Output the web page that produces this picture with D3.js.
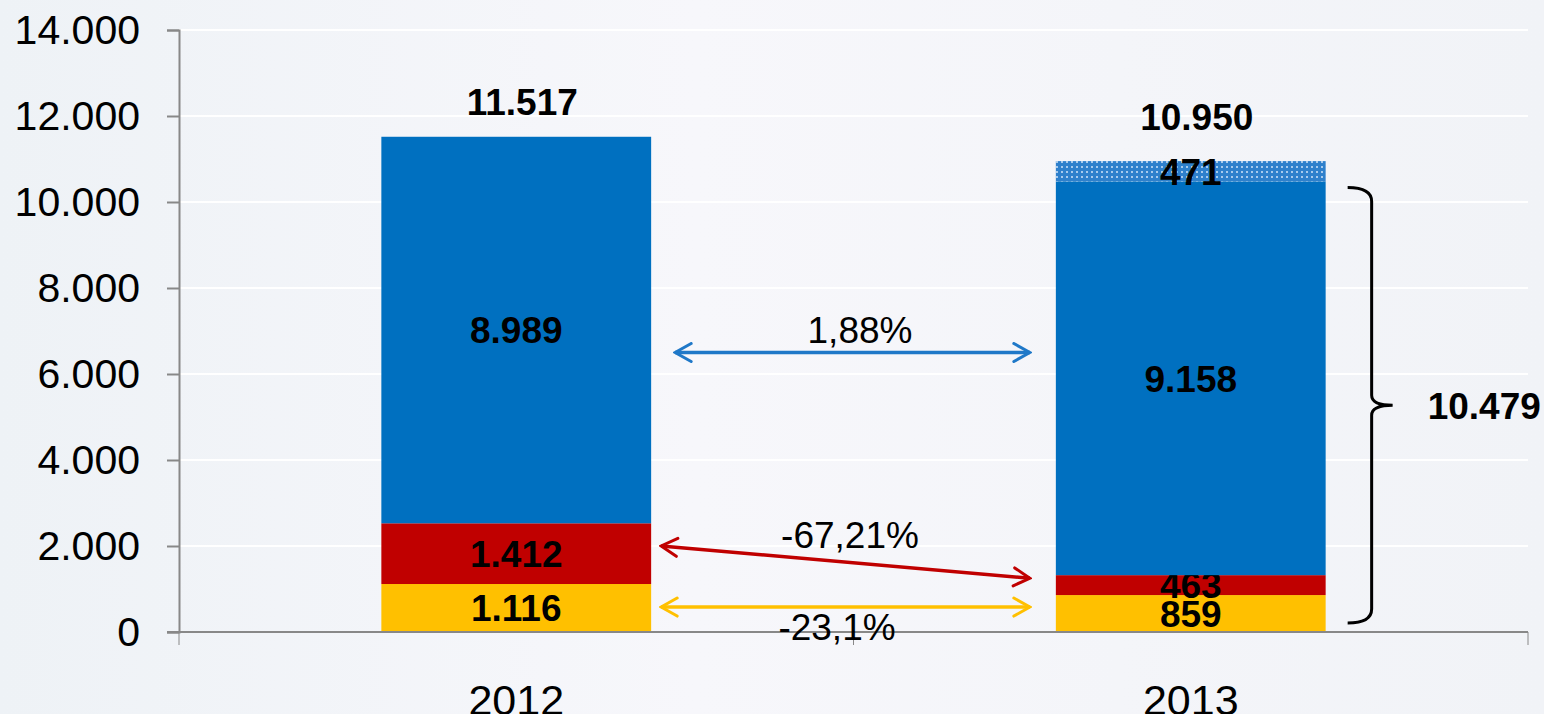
<!DOCTYPE html>
<html>
<head>
<meta charset="utf-8">
<script src="https://cdn.jsdelivr.net/npm/d3@7"></script>
<style>
  html, body { margin: 0; padding: 0; background: #f3f5f9; }
  svg { display: block; font-family: "Liberation Sans", Arial, sans-serif; }
</style>
</head>
<body>
<script>
// data
var years = ["2012", "2013"];
var yellowVals = [1116, 859];
var redVals = [1412, 463];
var blueVals = [8989, 9158];
var hatchVals = [0, 471];
var totals = [11517, 10950];
var yTicks = [0, 2000, 4000, 6000, 8000, 10000, 12000, 14000];

// comparison arrows: label, colour key, value at 2012 end, value at 2013 end
var arrowLabels = ["1,88%", "-67,21%", "-23,1%"];
var arrowKeys = ["blue", "red", "yellow"];
var arrowFrom = [6500, 2000, 580];
var arrowTo = [6500, 1250, 580];

var braceTotal = 10479;

var colors = { yellow: "#ffc000", red: "#c00000", blue: "#0070c0", hatch: "url(#hatch)" };
var arrowColors = { blue: "#1f78c8", red: "#c00000", yellow: "#ffc000" };

var svgWidth = 1544;
var svgHeight = 714;

var locale = d3.formatLocale({ decimal: ",", thousands: ".", grouping: [3], currency: ["", ""] });
var fmt = locale.format(",d");

var svg = d3.select("body").append("svg")
  .attr("width", svgWidth)
  .attr("height", svgHeight);

var defs = svg.append("defs");

var bg = defs.append("linearGradient").attr("id", "bg")
  .attr("x1", 0).attr("y1", 0).attr("x2", 1).attr("y2", 0);
bg.append("stop").attr("offset", "0%").attr("stop-color", "#eef2f6");
bg.append("stop").attr("offset", "45%").attr("stop-color", "#f7f7fb");
bg.append("stop").attr("offset", "100%").attr("stop-color", "#f1f3f7");

var pat = defs.append("pattern").attr("id", "hatch")
  .attr("patternUnits", "userSpaceOnUse").attr("width", 5).attr("height", 5);
pat.append("rect").attr("width", 5).attr("height", 5).attr("fill", "#2e80cc");
pat.append("rect").attr("x", 1).attr("y", 1).attr("width", 2).attr("height", 2).attr("fill", "#a8cbed");

arrowKeys.forEach(function(k) {
  defs.append("marker")
    .attr("id", "head-" + k)
    .attr("viewBox", "-18 -11 20 22")
    .attr("refX", 0).attr("refY", 0)
    .attr("markerUnits", "userSpaceOnUse")
    .attr("markerWidth", 20).attr("markerHeight", 22)
    .attr("orient", "auto-start-reverse")
    .append("path")
    .attr("d", "M-16,-9 L0,0 L-16,9")
    .attr("fill", "none")
    .attr("stroke", arrowColors[k])
    .attr("stroke-width", 3)
    .attr("stroke-linecap", "round");
});

svg.append("rect").attr("width", svgWidth).attr("height", svgHeight).attr("fill", "url(#bg)");

// scales
var x = d3.scaleBand().domain(years).range([179, 1528]).padding(0);
var y = d3.scaleLinear().domain([0, 14000]).range([632, 30]);
var barW = x.bandwidth() * 0.4;
var cx = function(yr) { return x(yr) + x.bandwidth() / 2; };

// gridlines
svg.append("g").selectAll("line")
  .data(yTicks.filter(function(d) { return d > 0; }))
  .enter().append("line")
  .attr("x1", 179).attr("x2", 1528)
  .attr("y1", function(d) { return y(d); })
  .attr("y2", function(d) { return y(d); })
  .attr("stroke", "#ffffff").attr("stroke-width", 2);

// stacked bars
var rows = years.map(function(yr, i) {
  return { year: yr, yellow: yellowVals[i], red: redVals[i], blue: blueVals[i], hatch: hatchVals[i] };
});
var keys = ["yellow", "red", "blue", "hatch"];
var stacked = d3.stack().keys(keys)(rows);

var layers = svg.append("g").selectAll("g")
  .data(stacked)
  .enter().append("g")
  .attr("fill", function(d) { return colors[d.key]; });

layers.selectAll("rect")
  .data(function(d) { return d.filter(function(s) { return s[1] > s[0]; }); })
  .enter().append("rect")
  .attr("x", function(d) { return cx(d.data.year) - barW / 2; })
  .attr("y", function(d) { return y(d[1]); })
  .attr("width", barW)
  .attr("height", function(d) { return y(d[0]) - y(d[1]); });

// segment labels
layers.selectAll("text")
  .data(function(d) { return d.filter(function(s) { return s[1] > s[0]; }); })
  .enter().append("text")
  .attr("x", function(d) { return cx(d.data.year); })
  .attr("y", function(d) { return y((d[0] + d[1]) / 2); })
  .attr("dy", "0.36em")
  .attr("text-anchor", "middle")
  .attr("fill", "#000")
  .attr("font-size", 37)
  .attr("font-weight", "bold")
  .text(function(d) { return fmt(d[1] - d[0]); });

// totals
svg.append("g").selectAll("text")
  .data(totals)
  .enter().append("text")
  .attr("x", function(d, i) { return cx(years[i]) + 6; })
  .attr("y", function(d, i) { return y(d) - (i === 0 ? 35 : 44); })
  .attr("dy", "0.36em")
  .attr("text-anchor", "middle")
  .attr("font-size", 37)
  .attr("font-weight", "bold")
  .text(function(d) { return fmt(d); });

// axes
var leftAxis = d3.axisLeft(y).tickValues(yTicks).tickSize(12).tickPadding(27).tickFormat(fmt);
var yAxisG = svg.append("g").attr("transform", "translate(179,0)").call(leftAxis);
yAxisG.selectAll("text").attr("font-size", 41).attr("fill", "#000").attr("font-family", "Liberation Sans, Arial, sans-serif");

var bottomAxis = d3.axisBottom(x).tickSize(0).tickPadding(52);
var xAxisG = svg.append("g").attr("transform", "translate(0,632)").call(bottomAxis);
xAxisG.selectAll("text").attr("font-size", 43).attr("fill", "#000").attr("font-family", "Liberation Sans, Arial, sans-serif");
xAxisG.select(".domain").attr("d", "M167,0H1528");

// category boundary ticks
svg.append("g").selectAll("line")
  .data([0, 1, 2])
  .enter().append("line")
  .attr("x1", function(i) { return x.range()[0] + i * x.step(); })
  .attr("x2", function(i) { return x.range()[0] + i * x.step(); })
  .attr("y1", 632).attr("y2", 645)
  .attr("stroke", "#888");

svg.selectAll(".domain, .tick line").attr("stroke", "#888").attr("stroke-width", 2);

// comparison arrows
var ax1 = cx(years[0]) + barW / 2 + 10;
var ax2 = cx(years[1]) - barW / 2 - 26;
var arrowStartPad = [24, 10, 10];
var arrows = svg.append("g");
arrowKeys.forEach(function(k, i) {
  arrows.append("line")
    .attr("x1", ax1 + arrowStartPad[i] - 10).attr("y1", y(arrowFrom[i]))
    .attr("x2", ax2).attr("y2", y(arrowTo[i]))
    .attr("stroke", arrowColors[k]).attr("stroke-width", 3.5)
    .attr("marker-start", "url(#head-" + k + ")")
    .attr("marker-end", "url(#head-" + k + ")");
});

var labelX = [860, 850, 837];
var labelY = [330, 535, 627];
arrowLabels.forEach(function(t, i) {
  arrows.append("text")
    .attr("x", labelX[i]).attr("y", labelY[i])
    .attr("dy", "0.36em")
    .attr("text-anchor", "middle")
    .attr("font-size", 37)
    .text(t);
});

// brace around 2013 (without the hatched part)
var bx = cx(years[1]) + barW / 2 + 46;
var bTop = y(braceTotal) + 6;
var bBot = y(0) - 9;
var bMid = (bTop + bBot) / 2;
svg.append("path")
  .attr("d", "M" + (bx - 24) + "," + bTop +
    " Q" + bx + "," + bTop + " " + bx + "," + (bTop + 14) +
    " L" + bx + "," + (bMid - 10) +
    " Q" + bx + "," + bMid + " " + (bx + 21) + "," + bMid +
    " Q" + bx + "," + bMid + " " + bx + "," + (bMid + 10) +
    " L" + bx + "," + (bBot - 14) +
    " Q" + bx + "," + bBot + " " + (bx - 24) + "," + bBot)
  .attr("fill", "none").attr("stroke", "#000").attr("stroke-width", 3);

svg.append("text")
  .attr("x", bx + 56).attr("y", bMid)
  .attr("dy", "0.36em")
  .attr("font-size", 37)
  .attr("font-weight", "bold")
  .text(fmt(braceTotal));
</script>
</body>
</html>
